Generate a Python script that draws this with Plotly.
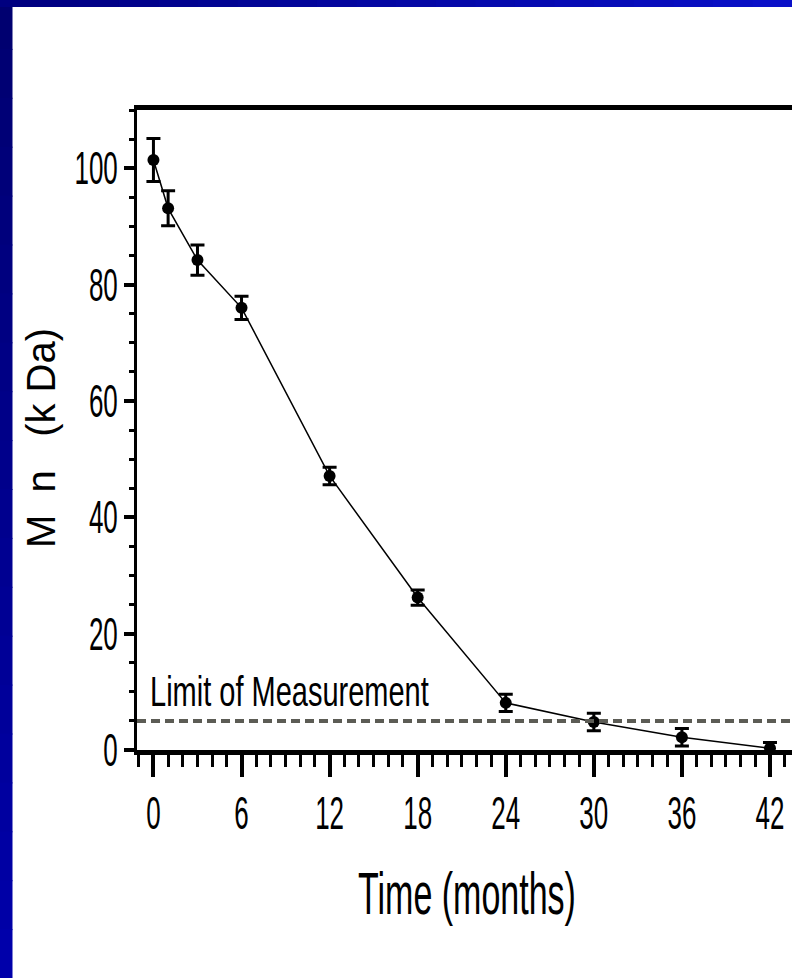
import plotly.graph_objects as go

# ---- data ----
months = [0, 1, 3, 6, 12, 18, 24, 30, 36, 42]
mn_kda = [101.4, 93.1, 84.2, 76.0, 47.1, 26.2, 8.1, 4.8, 2.2, 0.3]
mn_err = [3.7, 3.0, 2.6, 2.0, 1.5, 1.3, 1.5, 1.5, 1.5, 1.0]
limit_value = 5
limit_label = "Limit of Measurement"
x_ticks = [0, 6, 12, 18, 24, 30, 36, 42]
y_ticks = [0, 20, 40, 60, 80, 100]
x_title = "Time (months)"
y_title = "M\u00a0\u00a0n\u00a0\u00a0\u00a0(k\u00a0Da)"

W, H = 792, 978
ML, MR, MT, MB = 137, 0, 110, 228
PW, PH = W - ML - MR, H - MT - MB

REG = "Liberation Sans, Arial, sans-serif"

fig = go.Figure()
fig.add_trace(go.Scatter(
    x=months, y=mn_kda, mode="lines+markers",
    line=dict(color="black", width=1.5),
    marker=dict(symbol="circle", size=12, color="black"),
    error_y=dict(type="data", array=mn_err, visible=True,
                 color="black", thickness=3, width=7),
    showlegend=False, cliponaxis=False,
))

# limit of measurement line
fig.add_shape(type="line", xref="paper", yref="y", x0=0, x1=1,
              y0=limit_value, y1=limit_value,
              line=dict(color="#5c5c55", width=4, dash="9px,5px"))
fig.add_annotation(x=9.3, y=limit_value + 5.1, xref="x", yref="y",
                   text=limit_label, showarrow=False, xanchor="center",
                   yanchor="middle",
                   font=dict(family=REG, size=29, color="black"))


def px_x(p):
    return (p - ML) / PW


def px_y(p):
    return (H - MB - p) / PH


# axis titles (placed as annotations)
fig.add_annotation(x=px_x(41), y=px_y(438), xref="paper", yref="paper",
                   text=y_title, showarrow=False, textangle=-90,
                   xanchor="center", yanchor="middle",
                   font=dict(family=REG, size=40, color="black"))
fig.add_annotation(x=px_x(467), y=px_y(893), xref="paper", yref="paper",
                   text=x_title, showarrow=False,
                   xanchor="center", yanchor="middle",
                   font=dict(family=REG, size=34, color="black"))

# blue frame: left strip with vertical gradient, top bar with horizontal gradient
n = 20
for i in range(n):
    t = i / (n - 1)
    c = "rgb(0,0,%d)" % int(112 + t * (170 - 112))
    fig.add_shape(type="rect", xref="paper", yref="paper",
                  x0=px_x(0), x1=px_x(12.5),
                  y0=px_y(H * i / n), y1=px_y(H * (i + 1) / n + 1),
                  line=dict(width=0), fillcolor=c, layer="above")
for i in range(n):
    t = i / (n - 1)
    c = "rgb(%d,%d,%d)" % (int(t * 10), int(t * 16), int(128 + t * (200 - 128)))
    fig.add_shape(type="rect", xref="paper", yref="paper",
                  x0=px_x(W * i / n), x1=px_x(W * (i + 1) / n + 1),
                  y0=px_y(0), y1=px_y(7),
                  line=dict(width=0), fillcolor=c, layer="above")

fig.update_layout(
    width=W, height=H,
    margin=dict(l=ML, r=MR, t=MT, b=MB, autoexpand=False),
    paper_bgcolor="white", plot_bgcolor="white",
    xaxis=dict(
        range=[-1.12, 43.5], tickmode="array", tickvals=x_ticks,
        ticks="outside", ticklen=22, tickwidth=4, tickcolor="black",
        showline=True, linewidth=5, linecolor="black", mirror=True,
        showgrid=False, zeroline=False, automargin=False,
        minor=dict(dtick=1, ticks="outside", ticklen=12, tickwidth=3,
                   tickcolor="black", showgrid=False),
        tickfont=dict(family=REG, size=26, color="black"),
        ticklabelstandoff=14, ticklabeloverflow="allow",
    ),
    yaxis=dict(
        range=[0, 110], tickmode="array", tickvals=y_ticks,
        ticks="outside", ticklen=10, tickwidth=4, tickcolor="black",
        showline=True, linewidth=3, linecolor="black",
        showgrid=False, zeroline=False, automargin=False,
        minor=dict(dtick=5, ticks="outside", ticklen=5, tickwidth=3,
                   tickcolor="black", showgrid=False),
        tickfont=dict(family=REG, size=26, color="black"),
        ticklabelstandoff=1, ticklabeloverflow="allow",
    ),
)

post = """
document.body.style.margin = '0';
document.body.style.overflow = 'hidden';
var gd = document.getElementById('{plot_id}');
function stretchY(nodes, s) {
  nodes.forEach(function (t) {
    var cur = t.getAttribute('transform') || '';
    var suf = t.getAttribute('data-sy');
    if (suf && cur.slice(-suf.length) === suf) { cur = cur.slice(0, -suf.length); }
    var bb = t.getBBox();
    var cy = bb.y + bb.height / 2;
    var add = ' translate(0,' + cy.toFixed(2) + ') scale(1,' + s + ') translate(0,' + (-cy).toFixed(2) + ')';
    t.setAttribute('transform', cur + add);
    t.setAttribute('data-sy', add);
  });
}
function byText(prefix) {
  return Array.prototype.filter.call(gd.querySelectorAll('.annotation-text'),
    function (t) { return t.textContent.indexOf(prefix) === 0; });
}
function run() {
  stretchY(gd.querySelectorAll('.xtick text'), 1.77);
  stretchY(gd.querySelectorAll('.ytick text'), 1.77);
  stretchY(byText('Time'), 1.73);
  stretchY(byText('Limit'), 1.49);
}
run();
gd.on('plotly_afterplot', run);
"""

fig.write_html("out.html", post_script=post, config={"displayModeBar": False})
